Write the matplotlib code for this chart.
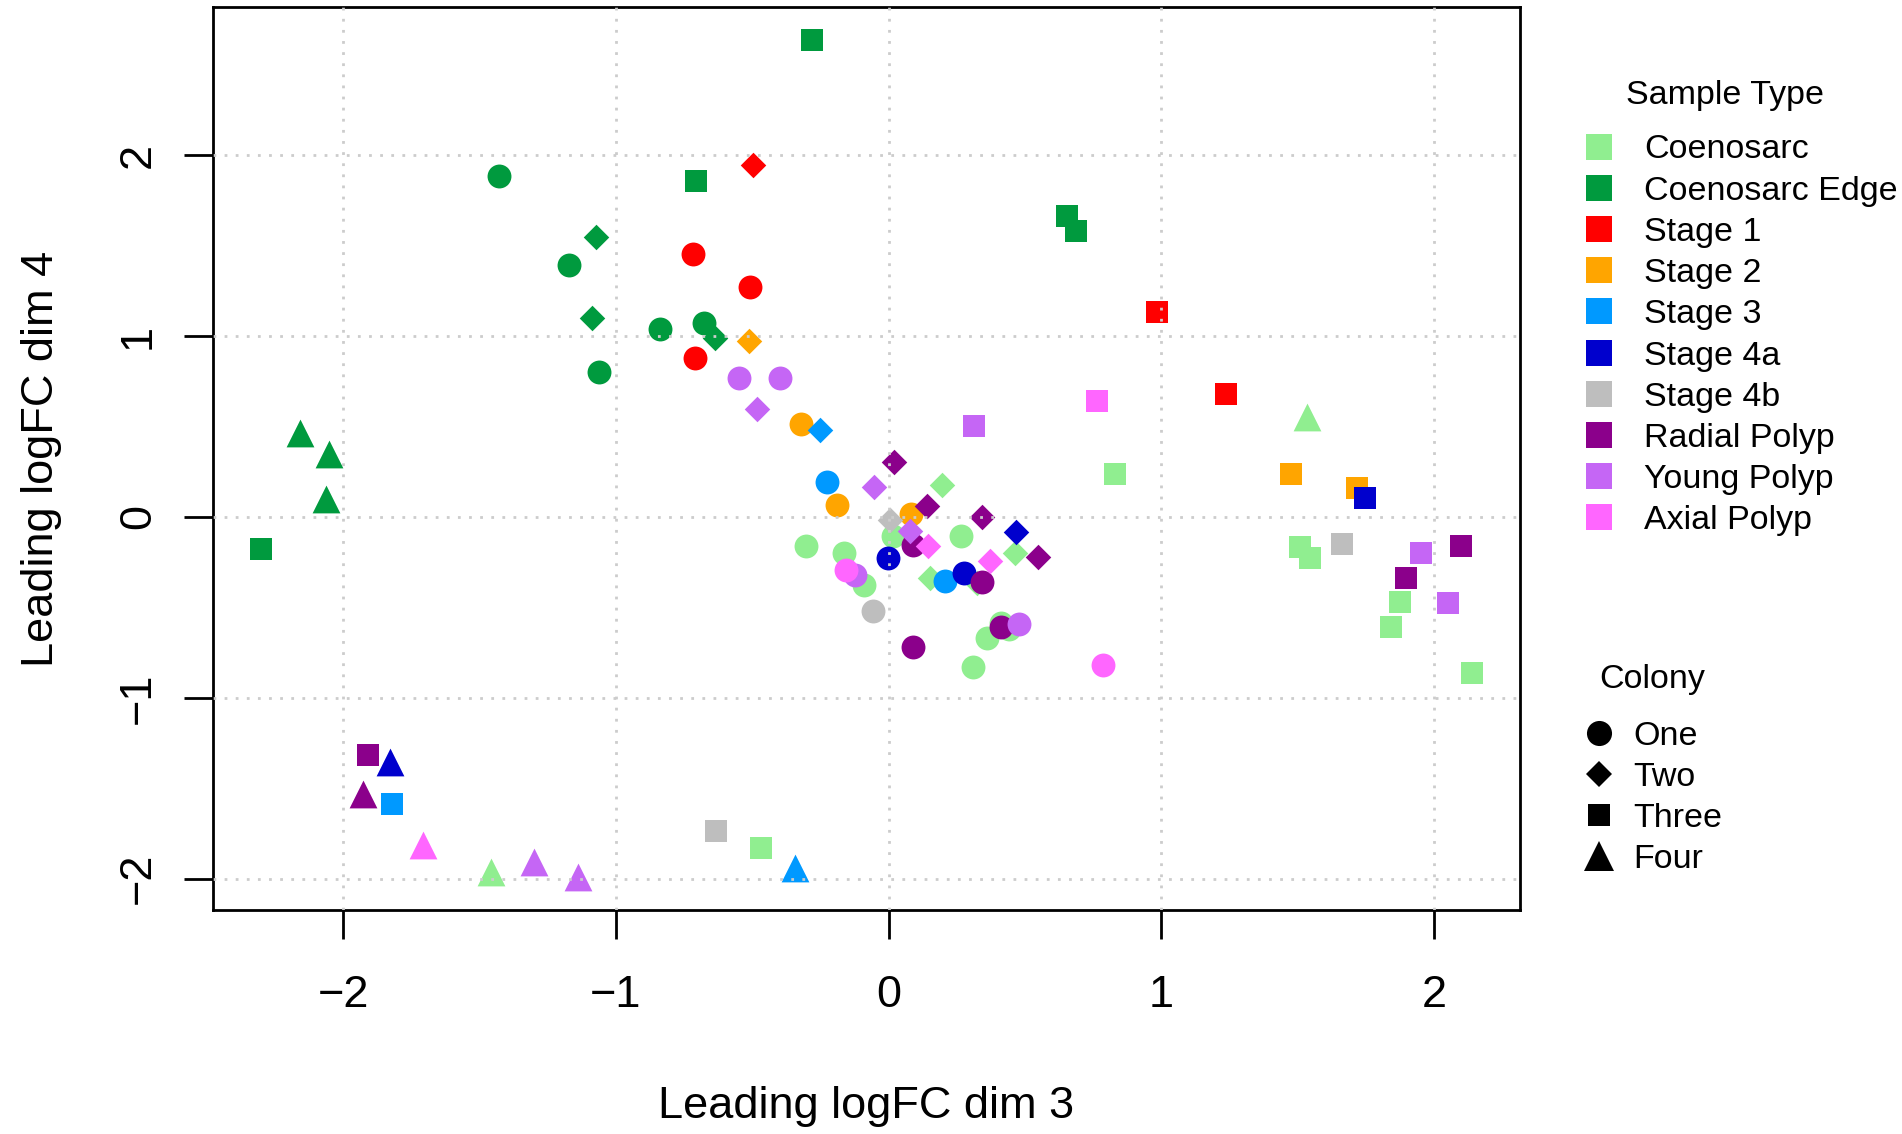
import matplotlib
matplotlib.use("Agg")
import matplotlib.pyplot as plt
from matplotlib.lines import Line2D

plt.rcParams['font.family'] = ['Liberation Sans', 'DejaVu Sans']

## Sample types, colours and colonies (legend order)
sample_types = ["Coenosarc", "Coenosarc Edge", "Stage 1", "Stage 2", "Stage 3",
                "Stage 4a", "Stage 4b", "Radial Polyp", "Young Polyp", "Axial Polyp"]
type_colours = ["#90EE90", "#009A3E", "#FF0000", "#FFA500", "#0099FF",
                "#0000CD", "#BEBEBE", "#8B008B", "#C566F5", "#FF66FF"]
colonies = ["One", "Two", "Three", "Four"]
colony_markers = ["o", "D", "s", "^"]
colony_sizes = [17.2, 13.0, 15.6, 20.0]

## One entry per sample: type, colony, dim 3, dim 4
sample_type = (["Coenosarc"] * 22 + ["Coenosarc Edge"] * 16 + ["Stage 1"] * 6
               + ["Stage 2"] * 6 + ["Stage 3"] * 5 + ["Stage 4a"] * 5 + ["Stage 4b"] * 4
               + ["Radial Polyp"] * 12 + ["Young Polyp"] * 12 + ["Axial Polyp"] * 6)
colony = (["One"] * 9 + ["Two"] * 4 + ["Three"] * 7 + ["Four"] * 2          # Coenosarc
          + ["One"] * 5 + ["Two"] * 3 + ["Three"] * 5 + ["Four"] * 3        # Edge
          + ["One"] * 3 + ["Two"] * 1 + ["Three"] * 2                       # Stage 1
          + ["One"] * 3 + ["Two"] * 1 + ["Three"] * 2                       # Stage 2
          + ["One"] * 2 + ["Two"] * 1 + ["Three"] * 1 + ["Four"] * 1        # Stage 3
          + ["One"] * 2 + ["Two"] * 1 + ["Three"] * 1 + ["Four"] * 1        # Stage 4a
          + ["One"] * 1 + ["Two"] * 1 + ["Three"] * 2                       # Stage 4b
          + ["One"] * 4 + ["Two"] * 4 + ["Three"] * 3 + ["Four"] * 1        # Radial
          + ["One"] * 4 + ["Two"] * 3 + ["Three"] * 3 + ["Four"] * 2        # Young
          + ["One"] * 2 + ["Two"] * 2 + ["Three"] * 1 + ["Four"] * 1)       # Axial

dim3 = [-0.304, -0.163, -0.089, 0.017, 0.265, 0.360, 0.413, 0.440, 0.309,
        0.195, 0.150, 0.325, 0.463,
        0.831, 1.508, 1.545, 1.873, 1.843, 2.137, -0.467,
        1.535, -1.459,
        -1.428, -1.170, -1.060, -0.837, -0.676,
        -1.072, -1.088, -0.635,
        -0.282, -0.706, 0.654, 0.688, -2.299,
        -2.157, -2.053, -2.063,
        -0.718, -0.510, -0.709, -0.496, 0.982, 1.237,
        -0.321, -0.191, 0.081, -0.513, 1.474, 1.715,
        -0.226, 0.208, -0.250, -1.819, -0.342,
        -0.004, 0.278, 0.468, 1.747, -1.827,
        -0.059, 0.005, 1.662, -0.632,
        0.088, 0.342, 0.091, 0.413, 0.018, 0.141, 0.341, 0.548, 2.097, 1.897, -1.907, -1.925,
        -0.550, -0.400, -0.122, 0.478, -0.481, -0.053, 0.080, 0.314, 1.952, 2.051, -1.300, -1.138,
        -0.157, 0.785, 0.143, 0.370, 0.765, -1.705]
dim4 = [-0.163, -0.200, -0.375, -0.107, -0.103, -0.668, -0.588, -0.620, -0.829,
        0.176, -0.339, -0.363, -0.200,
        0.236, -0.169, -0.228, -0.470, -0.610, -0.865, -1.833,
        0.553, -1.963,
        1.883, 1.395, 0.803, 1.041, 1.074,
        1.550, 1.099, 0.991,
        2.635, 1.857, 1.665, 1.582, -0.175,
        0.466, 0.349, 0.097,
        1.454, 1.269, 0.880, 1.944, 1.133, 0.678,
        0.513, 0.065, 0.019, 0.972, 0.240, 0.159,
        0.193, -0.353, 0.481, -1.587, -1.939,
        -0.228, -0.311, -0.082, 0.104, -1.356,
        -0.518, -0.015, -0.149, -1.739,
        -0.153, -0.361, -0.718, -0.607, 0.304, 0.063, 0.000, -0.222, -0.161, -0.339, -1.319, -1.531,
        0.768, 0.770, -0.320, -0.594, 0.599, 0.165, -0.079, 0.503, -0.199, -0.478, -1.911, -1.989,
        -0.292, -0.820, -0.163, -0.246, 0.642, -1.815]

fig = plt.figure(figsize=(19.02, 11.34), dpi=100)
ax = fig.add_axes([0.112, 0.1975, 0.6872, 0.7963])

for t, col in zip(sample_types, type_colours):
    for c, m, ms in zip(colonies, colony_markers, colony_sizes):
        xs = [x for x, st, cc in zip(dim3, sample_type, colony) if st == t and cc == c]
        ys = [y for y, st, cc in zip(dim4, sample_type, colony) if st == t and cc == c]
        if xs:
            ax.scatter(xs, ys, s=ms ** 2, marker=m, color=col, linewidths=0, zorder=2)

ax.margins(0.04)
ax.set_xticks([-2, -1, 0, 1, 2])
ax.set_yticks([-2, -1, 0, 1, 2])
ax.set_xticklabels(["\u22122", "\u22121", "0", "1", "2"])
ax.set_yticklabels(["\u22122", "\u22121", "0", "1", "2"], rotation=90, va="center")

## dotted grid drawn over the points, like grid() after plot() in R
ax.set_axisbelow(False)
ax.grid(True, color="#CCCCCC", linestyle=(0, (1, 3)), linewidth=2.0)

for sp in ax.spines.values():
    sp.set_linewidth(2.0)
ax.tick_params(length=21, width=2.0, labelsize=32.5)
ax.tick_params(axis="x", pad=26)
ax.tick_params(axis="y", pad=18)
ax.set_xlabel("Leading logFC dim 3", fontsize=32.5, labelpad=50)
ax.set_ylabel("Leading logFC dim 4", fontsize=32.5, labelpad=40)

## legends
type_handles = [Line2D([], [], marker="s", linestyle="", markersize=19,
                       markerfacecolor=c, markeredgewidth=0) for c in type_colours]
leg1 = ax.legend(type_handles, sample_types, loc="center left",
                 bbox_to_anchor=(0.832, 0.7042), bbox_transform=fig.transFigure,
                 frameon=False, fontsize=24.5, handlelength=1.0, handletextpad=0.82,
                 labelspacing=0.30, borderpad=0, borderaxespad=0)
ax.add_artist(leg1)

colony_handles = [Line2D([], [], marker=m, linestyle="", markersize=s * 1.05,
                         color="black", markeredgewidth=0)
                  for m, s in zip(colony_markers, colony_sizes)]
leg2 = ax.legend(colony_handles, colonies, loc="center left",
                 bbox_to_anchor=(0.832, 0.2963), bbox_transform=fig.transFigure,
                 frameon=False, fontsize=24.5, handlelength=1.0, handletextpad=0.5,
                 labelspacing=0.30, borderpad=0, borderaxespad=0)

fig.text(0.907, 0.9162, "Sample Type", fontsize=24.5, ha="center", va="center")
fig.text(0.8686, 0.4004, "Colony", fontsize=24.5, ha="center", va="center")

fig.savefig("out.png", dpi=100)
